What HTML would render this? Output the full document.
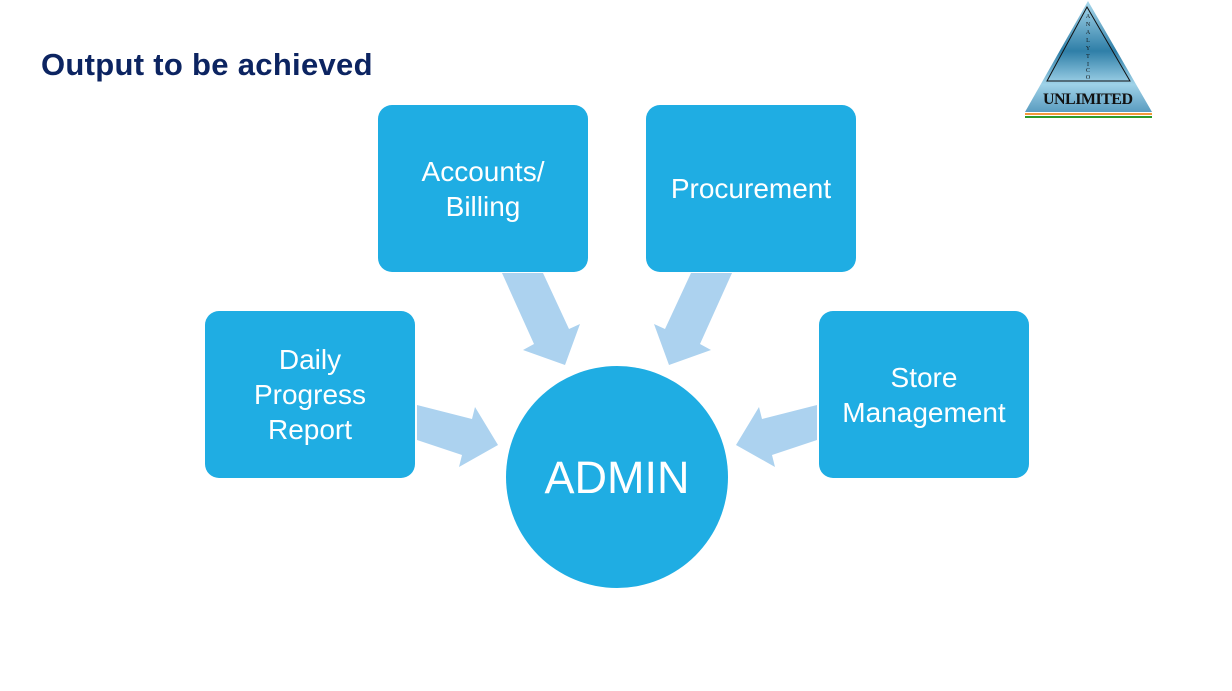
<!DOCTYPE html>
<html><head><meta charset="utf-8"><style>
body{margin:0;width:1232px;height:691px;background:#fff;position:relative;overflow:hidden;font-family:"Liberation Sans",sans-serif}
.t{position:absolute;left:41px;top:47px;font-size:31px;font-weight:bold;color:#0c2461;letter-spacing:0.3px}
.b{position:absolute;width:210px;height:167px;background:#1fade3;border-radius:14px;color:#fff;font-size:28px;line-height:35px;display:flex;align-items:center;justify-content:center;text-align:center}
</style></head><body>
<div class="t">Output to be achieved</div>
<svg width="1232" height="691" style="position:absolute;left:0;top:0">
<defs><linearGradient id="g" x1="0" y1="0" x2="0" y2="1"><stop offset="0" stop-color="#a9d8ec"/><stop offset="0.45" stop-color="#2f7fa8"/><stop offset="0.75" stop-color="#9fd2e8"/><stop offset="1" stop-color="#5a9cc0"/></linearGradient></defs>
<polygon points="1088,1 1152,112 1025,112" fill="url(#g)"/>
<polygon points="1087,7 1130,81 1047,81" fill="none" stroke="#111" stroke-width="1"/>
<text x="1088" y="18" font-family="Liberation Serif" font-size="6" text-anchor="middle" fill="#111">A</text>
<text x="1088" y="26" font-family="Liberation Serif" font-size="6" text-anchor="middle" fill="#111">N</text>
<text x="1088" y="34" font-family="Liberation Serif" font-size="6" text-anchor="middle" fill="#111">A</text>
<text x="1088" y="42" font-family="Liberation Serif" font-size="6" text-anchor="middle" fill="#111">L</text>
<text x="1088" y="50" font-family="Liberation Serif" font-size="6" text-anchor="middle" fill="#111">Y</text>
<text x="1088" y="58" font-family="Liberation Serif" font-size="6" text-anchor="middle" fill="#111">T</text>
<text x="1088" y="66" font-family="Liberation Serif" font-size="6" text-anchor="middle" fill="#111">I</text>
<text x="1088" y="72" font-family="Liberation Serif" font-size="6" text-anchor="middle" fill="#111">C</text>
<text x="1088" y="79" font-family="Liberation Serif" font-size="6" text-anchor="middle" fill="#111">O</text>
<text x="1088" y="104" font-family="Liberation Serif" font-size="16" font-weight="bold" text-anchor="middle" fill="#111" textLength="90">UNLIMITED</text>
<rect x="1025" y="113" width="127" height="2" fill="#f39a3b"/>
<rect x="1025" y="116" width="127" height="2" fill="#2a9a2a"/>
<g fill="#acd2ef">
<polygon points="502,273 543,273 569,329 580,324 565,365 523,350 534,344"/>
<polygon points="732,273 691,273 665,329 654,324 669,365 711,350 700,344"/>
<polygon points="417,405 472,419 475,407 498,445 459,467 462,455 417,440"/>
<polygon points="817,405 762,419 759,407 736,445 775,467 772,455 817,440"/>
</g>
<circle cx="617" cy="477" r="111" fill="#1fade3"/>
<text x="617" y="493" font-family="Liberation Sans" font-size="45" fill="#fff" text-anchor="middle">ADMIN</text>
</svg>
<div class="b" style="left:378px;top:105px">Accounts/<br>Billing</div>
<div class="b" style="left:646px;top:105px">Procurement</div>
<div class="b" style="left:205px;top:311px">Daily<br>Progress<br>Report</div>
<div class="b" style="left:819px;top:311px">Store<br>Management</div>
</body></html>
